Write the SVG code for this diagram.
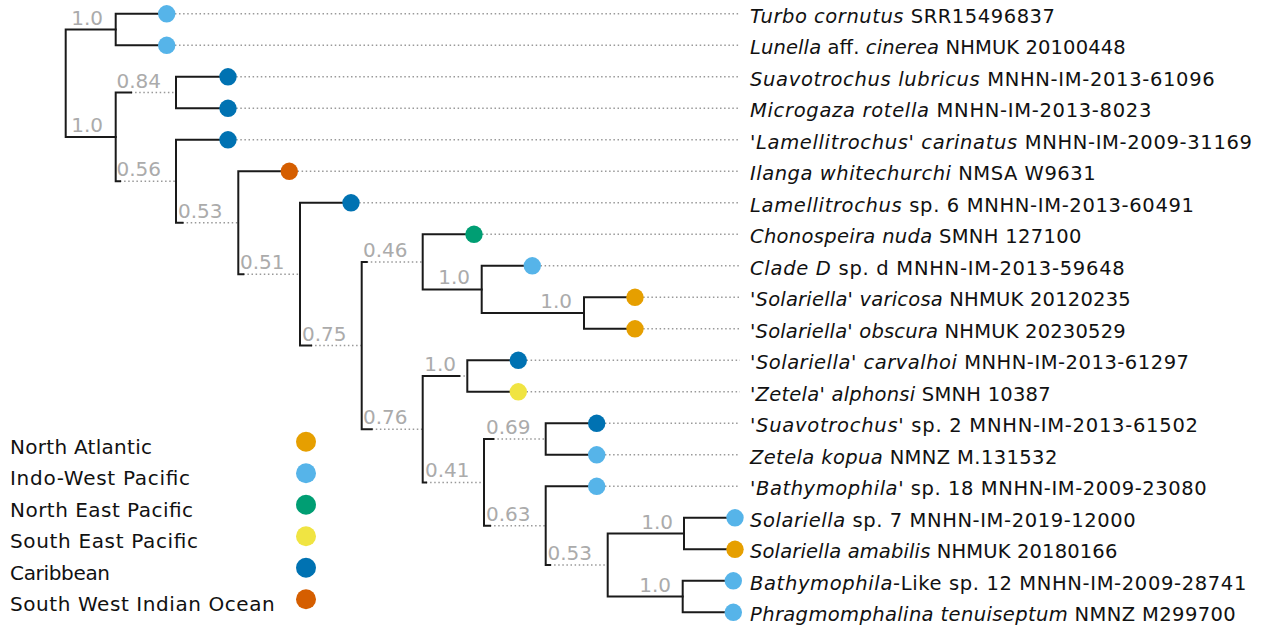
<svg xmlns="http://www.w3.org/2000/svg" width="1266" height="632" viewBox="0 0 1266 632">
  <style>
    .br { fill: none; stroke: #1a1a1a; stroke-width: 2; stroke-linecap: square; }
    .dt { fill: none; stroke: #999999; stroke-width: 1.5; stroke-dasharray: 1.5 2.6; }
    .sup { font-family: "DejaVu Sans", Verdana, sans-serif; font-size: 20px; fill: #ababab; }
    .tip { font-family: "DejaVu Sans", Verdana, sans-serif; font-size: 19.5px; fill: #111111; }
    .lg { font-family: "DejaVu Sans", Verdana, sans-serif; font-size: 20px; fill: #111111; }
    .i { font-style: italic; }
    .na { fill: #E69F00; }
    .iwp { fill: #56B4E9; }
    .nep { fill: #009E73; }
    .sep { fill: #F0E442; }
    .car { fill: #0072B2; }
    .swio { fill: #D55E00; }
  </style>

  <!-- dotted guides: leaf tips to names, and stretched internal branches -->
  <g id="connectors">
    <g class="dt">
      <path d="M166.7 13.8H740M166.7 45.3H740M228 76.8H740M228 108.3H740M228 139.8H740M289.3 171.3H740M351 202.8H740M474 234.3H740M532.3 265.8H740M635 297.3H740M635 328.8H740M518.3 360.3H740M518.3 391.8H740M596.7 423.3H740M596.7 454.8H740M596.7 486.3H740M735 517.8H740M735 549.3H740M733.3 580.8H740M733.3 612.3H740"/>
      <path d="M131 92.6H176M120 181.3H176M182.5 222.7H238.3M243.3 274.2H300M311 345.5H361.7M366.7 261.9H422.7M371.7 429.2H422.7M459.3 376.1H467.3M426 482.4H484M493.3 439.1H545.7M490 525.7H545.7M550 565.1H607.7"/>
    </g>
    <!-- solid branches -->
    <g class="br">
      <path d="M65.7 29.6V136.9M65.7 29.6H115.7M65.7 136.9H115.7"/>
      <path d="M115.7 13.8V45.3M115.7 13.8H166.7M115.7 45.3H166.7"/>
      <path d="M115.7 92.6V181.3M115.7 92.6H131M115.7 181.3H120"/>
      <path d="M176 76.8V108.3M176 76.8H228M176 108.3H228"/>
      <path d="M176 139.8V222.7M176 139.8H228M176 222.7H182.5"/>
      <path d="M238.3 171.3V274.2M238.3 171.3H289.3M238.3 274.2H243.3"/>
      <path d="M300 202.8V345.5M300 202.8H351M300 345.5H311"/>
      <path d="M361.7 261.9V429.2M361.7 261.9H366.7M361.7 429.2H371.7"/>
      <path d="M422.7 234.3V289.4M422.7 234.3H474M422.7 289.4H481.7"/>
      <path d="M481.7 265.8V313.1M481.7 265.8H532.3M481.7 313.1H584"/>
      <path d="M584 297.3V328.8M584 297.3H635M584 328.8H635"/>
      <path d="M422.7 376.1V482.4M422.7 376.1H459.3M422.7 482.4H426"/>
      <path d="M467.3 360.3V391.8M467.3 360.3H518.3M467.3 391.8H518.3"/>
      <path d="M484 439.1V525.7M484 439.1H493.3M484 525.7H490"/>
      <path d="M545.7 423.3V454.8M545.7 423.3H596.7M545.7 454.8H596.7"/>
      <path d="M545.7 486.3V565.1M545.7 486.3H596.7M545.7 565.1H550"/>
      <path d="M607.7 533.6V596.6M607.7 533.6H684M607.7 596.6H682.7"/>
      <path d="M684 517.8V549.3M684 517.8H735M684 549.3H735"/>
      <path d="M682.7 580.8V612.3M682.7 580.8H733.3M682.7 612.3H733.3"/>
    </g>
  </g>

  <!-- support values -->
  <g id="support">
    <text class="sup" x="103" y="24.6" text-anchor="end">1.0</text>
    <text class="sup" x="103" y="131.9" text-anchor="end">1.0</text>
    <text class="sup" x="116.5" y="87.6">0.84</text>
    <text class="sup" x="116.5" y="176.3">0.56</text>
    <text class="sup" x="178" y="217.7">0.53</text>
    <text class="sup" x="240" y="269.2">0.51</text>
    <text class="sup" x="302" y="340.5">0.75</text>
    <text class="sup" x="363" y="256.9">0.46</text>
    <text class="sup" x="363" y="424.2">0.76</text>
    <text class="sup" x="470" y="284.4" text-anchor="end">1.0</text>
    <text class="sup" x="572" y="308.1" text-anchor="end">1.0</text>
    <text class="sup" x="456" y="371.1" text-anchor="end">1.0</text>
    <text class="sup" x="425" y="477.4">0.41</text>
    <text class="sup" x="486" y="434.1">0.69</text>
    <text class="sup" x="486" y="520.7">0.63</text>
    <text class="sup" x="547.5" y="560.1">0.53</text>
    <text class="sup" x="673" y="528.6" text-anchor="end">1.0</text>
    <text class="sup" x="671" y="591.6" text-anchor="end">1.0</text>
  </g>

  <!-- tips: coloured by region, with specimen names -->
  <g id="tip01"><circle class="iwp" cx="166.7" cy="13.8" r="8.7"/><text class="tip" x="750" y="22.8" textLength="305" lengthAdjust="spacing"><tspan class="i">Turbo cornutus</tspan> SRR15496837</text></g>
  <g id="tip02"><circle class="iwp" cx="166.7" cy="45.3" r="8.7"/><text class="tip" x="750" y="54.3" textLength="375.7" lengthAdjust="spacing"><tspan class="i">Lunella</tspan> aff. <tspan class="i">cinerea</tspan> NHMUK 20100448</text></g>
  <g id="tip03"><circle class="car" cx="228" cy="76.8" r="8.7"/><text class="tip" x="750" y="85.8" textLength="464.7" lengthAdjust="spacing"><tspan class="i">Suavotrochus lubricus</tspan> MNHN-IM-2013-61096</text></g>
  <g id="tip04"><circle class="car" cx="228" cy="108.3" r="8.7"/><text class="tip" x="750" y="117.3" textLength="401.3" lengthAdjust="spacing"><tspan class="i">Microgaza rotella</tspan> MNHN-IM-2013-8023</text></g>
  <g id="tip05"><circle class="car" cx="228" cy="139.8" r="8.7"/><text class="tip" x="750" y="148.8" textLength="502" lengthAdjust="spacing"><tspan class="i">'Lamellitrochus' carinatus</tspan> MNHN-IM-2009-31169</text></g>
  <g id="tip06"><circle class="swio" cx="289.3" cy="171.3" r="8.7"/><text class="tip" x="750" y="180.3" textLength="345.7" lengthAdjust="spacing"><tspan class="i">Ilanga whitechurchi</tspan> NMSA W9631</text></g>
  <g id="tip07"><circle class="car" cx="351" cy="202.8" r="8.7"/><text class="tip" x="750" y="211.8" textLength="444" lengthAdjust="spacing"><tspan class="i">Lamellitrochus</tspan> sp. 6 MNHN-IM-2013-60491</text></g>
  <g id="tip08"><circle class="nep" cx="474" cy="234.3" r="8.7"/><text class="tip" x="750" y="243.3" textLength="331.3" lengthAdjust="spacing"><tspan class="i">Chonospeira nuda</tspan> SMNH 127100</text></g>
  <g id="tip09"><circle class="iwp" cx="532.3" cy="265.8" r="8.7"/><text class="tip" x="750" y="274.8" textLength="374.7" lengthAdjust="spacing"><tspan class="i">Clade D</tspan> sp. d MNHN-IM-2013-59648</text></g>
  <g id="tip10"><circle class="na" cx="635" cy="297.3" r="8.7"/><text class="tip" x="750" y="306.3" textLength="380.7" lengthAdjust="spacing"><tspan class="i">'Solariella' varicosa</tspan> NHMUK 20120235</text></g>
  <g id="tip11"><circle class="na" cx="635" cy="328.8" r="8.7"/><text class="tip" x="750" y="337.8" textLength="375.7" lengthAdjust="spacing"><tspan class="i">'Solariella' obscura</tspan> NHMUK 20230529</text></g>
  <g id="tip12"><circle class="car" cx="518.3" cy="360.3" r="8.7"/><text class="tip" x="750" y="369.3" textLength="439" lengthAdjust="spacing"><tspan class="i">'Solariella' carvalhoi</tspan> MNHN-IM-2013-61297</text></g>
  <g id="tip13"><circle class="sep" cx="518.3" cy="391.8" r="8.7"/><text class="tip" x="750" y="400.8" textLength="300.7" lengthAdjust="spacing"><tspan class="i">'Zetela' alphonsi</tspan> SMNH 10387</text></g>
  <g id="tip14"><circle class="car" cx="596.7" cy="423.3" r="8.7"/><text class="tip" x="750" y="432.3" textLength="448" lengthAdjust="spacing"><tspan class="i">'Suavotrochus'</tspan> sp. 2 MNHN-IM-2013-61502</text></g>
  <g id="tip15"><circle class="iwp" cx="596.7" cy="454.8" r="8.7"/><text class="tip" x="750" y="463.8" textLength="307.3" lengthAdjust="spacing"><tspan class="i">Zetela kopua</tspan> NMNZ M.131532</text></g>
  <g id="tip16"><circle class="iwp" cx="596.7" cy="486.3" r="8.7"/><text class="tip" x="750" y="495.3" textLength="456.7" lengthAdjust="spacing"><tspan class="i">'Bathymophila'</tspan> sp. 18 MNHN-IM-2009-23080</text></g>
  <g id="tip17"><circle class="iwp" cx="735" cy="517.8" r="8.7"/><text class="tip" x="750" y="526.8" textLength="385.7" lengthAdjust="spacing"><tspan class="i">Solariella</tspan> sp. 7 MNHN-IM-2019-12000</text></g>
  <g id="tip18"><circle class="na" cx="735" cy="549.3" r="8.7"/><text class="tip" x="750" y="558.3" textLength="367.3" lengthAdjust="spacing"><tspan class="i">Solariella amabilis</tspan> NHMUK 20180166</text></g>
  <g id="tip19"><circle class="iwp" cx="733.3" cy="580.8" r="8.7"/><text class="tip" x="750" y="589.8" textLength="496.3" lengthAdjust="spacing"><tspan class="i">Bathymophila</tspan>-Like sp. 12 MNHN-IM-2009-28741</text></g>
  <g id="tip20"><circle class="iwp" cx="733.3" cy="612.3" r="8.7"/><text class="tip" x="750" y="621.3" textLength="485.7" lengthAdjust="spacing"><tspan class="i">Phragmomphalina tenuiseptum</tspan> NMNZ M299700</text></g>

  <!-- region legend -->
  <g id="legend">
    <g id="lg-na"><text class="lg" x="10" y="453.7" textLength="142" lengthAdjust="spacing">North Atlantic</text><circle class="na" cx="306" cy="441.7" r="10"/></g>
    <g id="lg-iwp"><text class="lg" x="10" y="485.2" textLength="180" lengthAdjust="spacing">Indo-West Pacific</text><circle class="iwp" cx="306" cy="473.2" r="10"/></g>
    <g id="lg-nep"><text class="lg" x="10" y="516.7" textLength="183" lengthAdjust="spacing">North East Pacific</text><circle class="nep" cx="306" cy="504.7" r="10"/></g>
    <g id="lg-sep"><text class="lg" x="10" y="548.2" textLength="188" lengthAdjust="spacing">South East Pacific</text><circle class="sep" cx="306" cy="536.2" r="10"/></g>
    <g id="lg-car"><text class="lg" x="10" y="579.7" textLength="100" lengthAdjust="spacing">Caribbean</text><circle class="car" cx="306" cy="567.7" r="10"/></g>
    <g id="lg-swio"><text class="lg" x="10" y="611.2" textLength="264.7" lengthAdjust="spacing">South West Indian Ocean</text><circle class="swio" cx="306" cy="599.2" r="10"/></g>
  </g>
</svg>
